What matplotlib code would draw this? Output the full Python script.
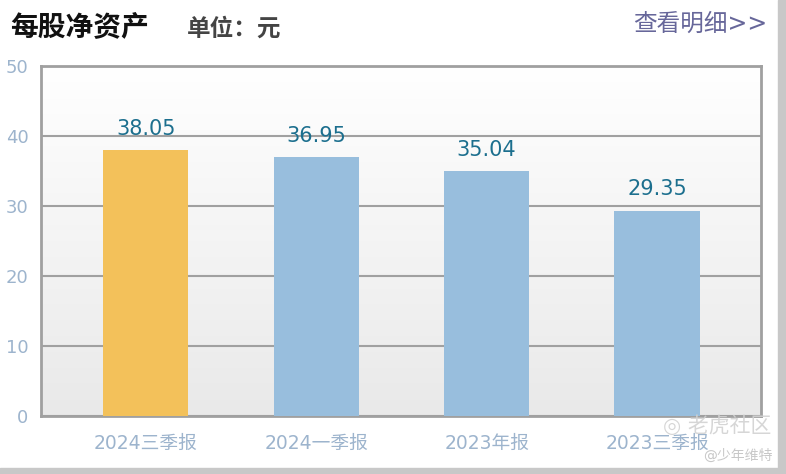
import matplotlib
matplotlib.use("Agg")
import matplotlib.pyplot as plt
import numpy as np
from matplotlib.colors import LinearSegmentedColormap

plt.rcParams['font.family'] = ['DejaVu Sans', 'Noto Sans CJK SC']

categories = ["2024三季报", "2024一季报", "2023年报", "2023三季报"]
values = [38.05, 36.95, 35.04, 29.35]
value_labels = ["38.05", "36.95", "35.04", "29.35"]
bar_colors = ["#F3C15A", "#98BEDD", "#98BEDD", "#98BEDD"]
yticks = [0, 10, 20, 30, 40, 50]

W, H = 786, 474
fig = plt.figure(figsize=(W / 100, H / 100), dpi=100)
fig.patch.set_facecolor("white")

# gray strips at right and bottom
fig.patches.append(plt.Rectangle((778 / W, 0), 1, 1, transform=fig.transFigure,
                                 color="#c8c8c8", zorder=0))
fig.patches.append(plt.Rectangle((0, 0), 1, 6 / H, transform=fig.transFigure,
                                 color="#c8c8c8", zorder=0))

ax = fig.add_axes([41 / W, 58 / H, 720 / W, 350 / H])
ax.set_facecolor("white")

# vertical gradient background
grad = np.linspace(1.0, 0.0, 256).reshape(-1, 1)
cmap = LinearSegmentedColormap.from_list("bg", ["#e9e9e9", "#ffffff"])
ax.imshow(grad, extent=[0, 1, 0, 1], transform=ax.transAxes, aspect="auto",
          cmap=cmap, zorder=0, origin="upper")

x = np.arange(len(categories))
ax.bar(x, values, width=0.5, color=bar_colors, zorder=3)

ax.set_xlim(-0.615, 3.61)
ax.set_ylim(0, 50)
ax.set_yticks(yticks)
ax.set_yticklabels([str(t) for t in yticks])
ax.set_xticks(x)
ax.set_xticklabels(categories)
ax.tick_params(axis="both", length=0)
ax.tick_params(axis="y", pad=9, labelsize=13, labelcolor="#9db4cd")
ax.tick_params(axis="x", pad=13, labelsize=13.5, labelcolor="#9db4cd")

ax.grid(axis="y", color="#a0a0a0", linewidth=1.5, zorder=1)
for s in ax.spines.values():
    s.set_color("#a0a0a0")
    s.set_linewidth(2)

for xi, v, lab in zip(x, values, value_labels):
    ax.annotate(lab, (xi, v), xytext=(0, 8), textcoords="offset points",
                ha="center", va="bottom", fontsize=15, color="#1c6f8e", zorder=4)

# header texts
fig.text(10 / W, 1 - 27 / H, "每股净资产", fontsize=20, fontweight="bold",
         color="#111111", va="center", ha="left")
fig.text(187 / W, 1 - 29 / H, "单位：元", fontsize=17, fontweight="bold",
         color="#444444", va="center", ha="left")
fig.text(767 / W, 1 - 24 / H, "查看明细>>", fontsize=17,
         color="#67679a", va="center", ha="right")

# watermark
fig.text(771 / W, 1 - 426 / H, "◎ 老虎社区", fontsize=15, color="#d2d2d2",
         va="center", ha="right", alpha=0.9)
fig.text(772 / W, 1 - 456 / H, "@少年维特", fontsize=10, color="#c8c8c8",
         va="center", ha="right")

fig.savefig("out.png", dpi=100, facecolor="white")
